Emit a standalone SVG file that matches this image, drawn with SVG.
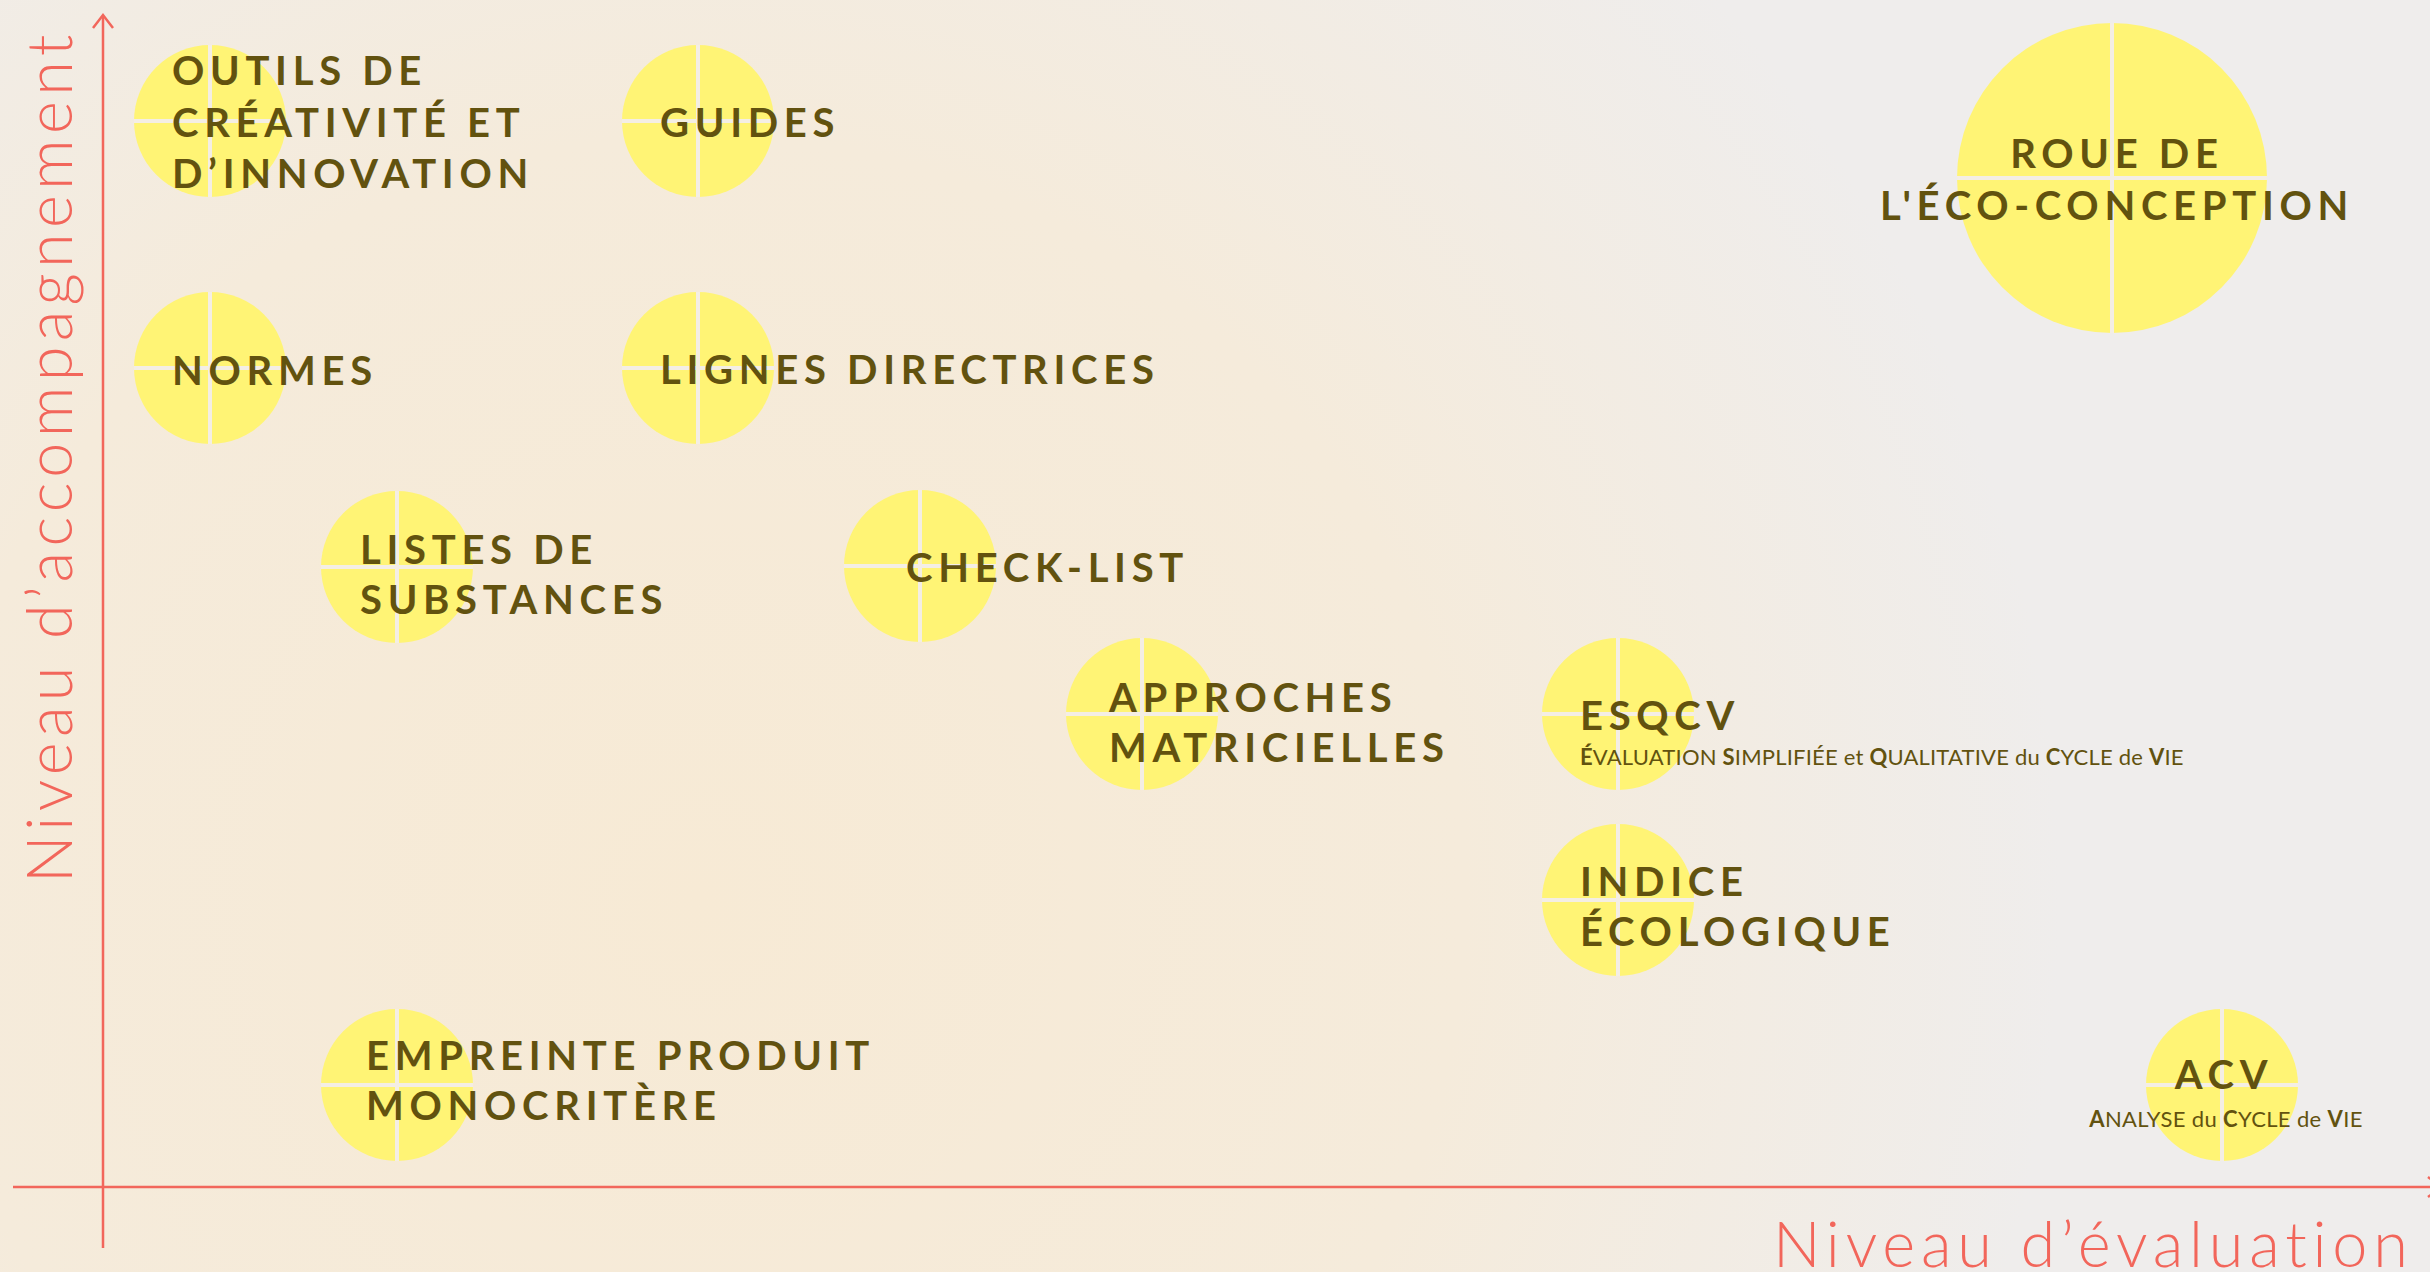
<svg xmlns="http://www.w3.org/2000/svg" width="2430" height="1272" viewBox="0 0 2430 1272">
<defs>
<radialGradient id="bg" cx="700" cy="900" r="1700" gradientUnits="userSpaceOnUse">
<stop offset="0" stop-color="#f7ead5"/>
<stop offset="0.45" stop-color="#f5ebdb"/>
<stop offset="0.8" stop-color="#efedec"/>
<stop offset="1" stop-color="#efedec"/>
</radialGradient>
<style>
.dot{fill:#fff475}
.div{stroke:#f4eee4;stroke-width:4}
.t{font-family:Lato,"Open Sans",sans-serif;font-weight:700;font-size:40px;letter-spacing:5.7px;fill:#62520f}
.s{font-family:Lato,"Open Sans",sans-serif;font-weight:400;font-size:22px;letter-spacing:0.2px;fill:#62520f}
.s tspan.b{font-weight:700}
.ax{stroke:#f2665b;stroke-width:2.5;fill:none}
.lab{font-family:Lato,"Open Sans",sans-serif;font-weight:300;font-size:63px;fill:#f2665b;letter-spacing:5.8px}
.laby{letter-spacing:5.3px}
</style>
</defs>
<rect width="2430" height="1272" fill="#efedec"/>
<rect width="2430" height="1272" fill="url(#bg)"/>

<g id="connectors">
<line class="ax" x1="103" y1="16" x2="103" y2="1248"/>
<polyline class="ax" points="93,28 103,15 113,28"/>
<line class="ax" x1="13" y1="1187" x2="2430" y2="1187"/>
<polyline class="ax" points="2428,1177 2441,1187 2428,1197"/>
</g>

<g id="axis-labels">
<text class="lab laby" transform="translate(72,883) rotate(-90)">Niveau d’accompagnement</text>
<text class="lab" x="1773" y="1267">Niveau d’évaluation</text>
</g>

<g id="outils">
<circle class="dot" cx="210" cy="121" r="76"/>
<line class="div" x1="210" y1="45" x2="210" y2="197"/><line class="div" x1="134" y1="121" x2="286" y2="121"/>
<text class="t" x="172" y="85">OUTILS DE</text>
<text class="t" x="172" y="137">CRÉATIVITÉ ET</text>
<text class="t" x="172" y="188">D’INNOVATION</text>
</g>

<g id="guides">
<circle class="dot" cx="698" cy="121" r="76"/>
<line class="div" x1="698" y1="45" x2="698" y2="197"/><line class="div" x1="622" y1="121" x2="774" y2="121"/>
<text class="t" x="660" y="137">GUIDES</text>
</g>

<g id="roue">
<circle class="dot" cx="2112" cy="178" r="155"/>
<line class="div" x1="2112" y1="23" x2="2112" y2="333"/><line class="div" x1="1957" y1="178" x2="2267" y2="178"/>
<text class="t" x="2117" y="168" text-anchor="middle">ROUE DE</text>
<text class="t" x="2117" y="220" text-anchor="middle">L'ÉCO-CONCEPTION</text>
</g>

<g id="normes">
<circle class="dot" cx="210" cy="368" r="76"/>
<line class="div" x1="210" y1="292" x2="210" y2="444"/><line class="div" x1="134" y1="368" x2="286" y2="368"/>
<text class="t" x="172" y="385">NORMES</text>
</g>

<g id="lignes">
<circle class="dot" cx="698" cy="368" r="76"/>
<line class="div" x1="698" y1="292" x2="698" y2="444"/><line class="div" x1="622" y1="368" x2="774" y2="368"/>
<text class="t" x="660" y="384">LIGNES DIRECTRICES</text>
</g>

<g id="listes">
<circle class="dot" cx="397" cy="567" r="76"/>
<line class="div" x1="397" y1="491" x2="397" y2="643"/><line class="div" x1="321" y1="567" x2="473" y2="567"/>
<text class="t" x="360" y="564">LISTES DE</text>
<text class="t" x="360" y="614">SUBSTANCES</text>
</g>

<g id="checklist">
<circle class="dot" cx="920" cy="566" r="76"/>
<line class="div" x1="920" y1="490" x2="920" y2="642"/><line class="div" x1="844" y1="566" x2="996" y2="566"/>
<text class="t" x="906" y="582">CHECK-LIST</text>
</g>

<g id="approches">
<circle class="dot" cx="1142" cy="714" r="76"/>
<line class="div" x1="1142" y1="638" x2="1142" y2="790"/><line class="div" x1="1066" y1="714" x2="1218" y2="714"/>
<text class="t" x="1109" y="712">APPROCHES</text>
<text class="t" x="1109" y="762">MATRICIELLES</text>
</g>

<g id="esqcv">
<circle class="dot" cx="1618" cy="714" r="76"/>
<line class="div" x1="1618" y1="638" x2="1618" y2="790"/><line class="div" x1="1542" y1="714" x2="1694" y2="714"/>
<text class="t" x="1580" y="730">ESQCV</text>
<text class="s" x="1580" y="765"><tspan class="b">É</tspan>VALUATION <tspan class="b">S</tspan>IMPLIFIÉE et <tspan class="b">Q</tspan>UALITATIVE du <tspan class="b">C</tspan>YCLE de <tspan class="b">V</tspan>IE</text>
</g>

<g id="indice">
<circle class="dot" cx="1618" cy="900" r="76"/>
<line class="div" x1="1618" y1="824" x2="1618" y2="976"/><line class="div" x1="1542" y1="900" x2="1694" y2="900"/>
<text class="t" x="1580" y="896">INDICE</text>
<text class="t" x="1580" y="946">ÉCOLOGIQUE</text>
</g>

<g id="empreinte">
<circle class="dot" cx="397" cy="1085" r="76"/>
<line class="div" x1="397" y1="1009" x2="397" y2="1161"/><line class="div" x1="321" y1="1085" x2="473" y2="1085"/>
<text class="t" x="366" y="1070">EMPREINTE PRODUIT</text>
<text class="t" x="366" y="1120">MONOCRITÈRE</text>
</g>

<g id="acv">
<circle class="dot" cx="2222" cy="1085" r="76"/>
<line class="div" x1="2222" y1="1009" x2="2222" y2="1161"/><line class="div" x1="2146" y1="1085" x2="2298" y2="1085"/>
<text class="t" x="2224" y="1089" text-anchor="middle">ACV</text>
<text class="s" x="2226" y="1127" text-anchor="middle" style="letter-spacing:0.35px"><tspan class="b">A</tspan>NALYSE du <tspan class="b">C</tspan>YCLE de <tspan class="b">V</tspan>IE</text>
</g>
</svg>
